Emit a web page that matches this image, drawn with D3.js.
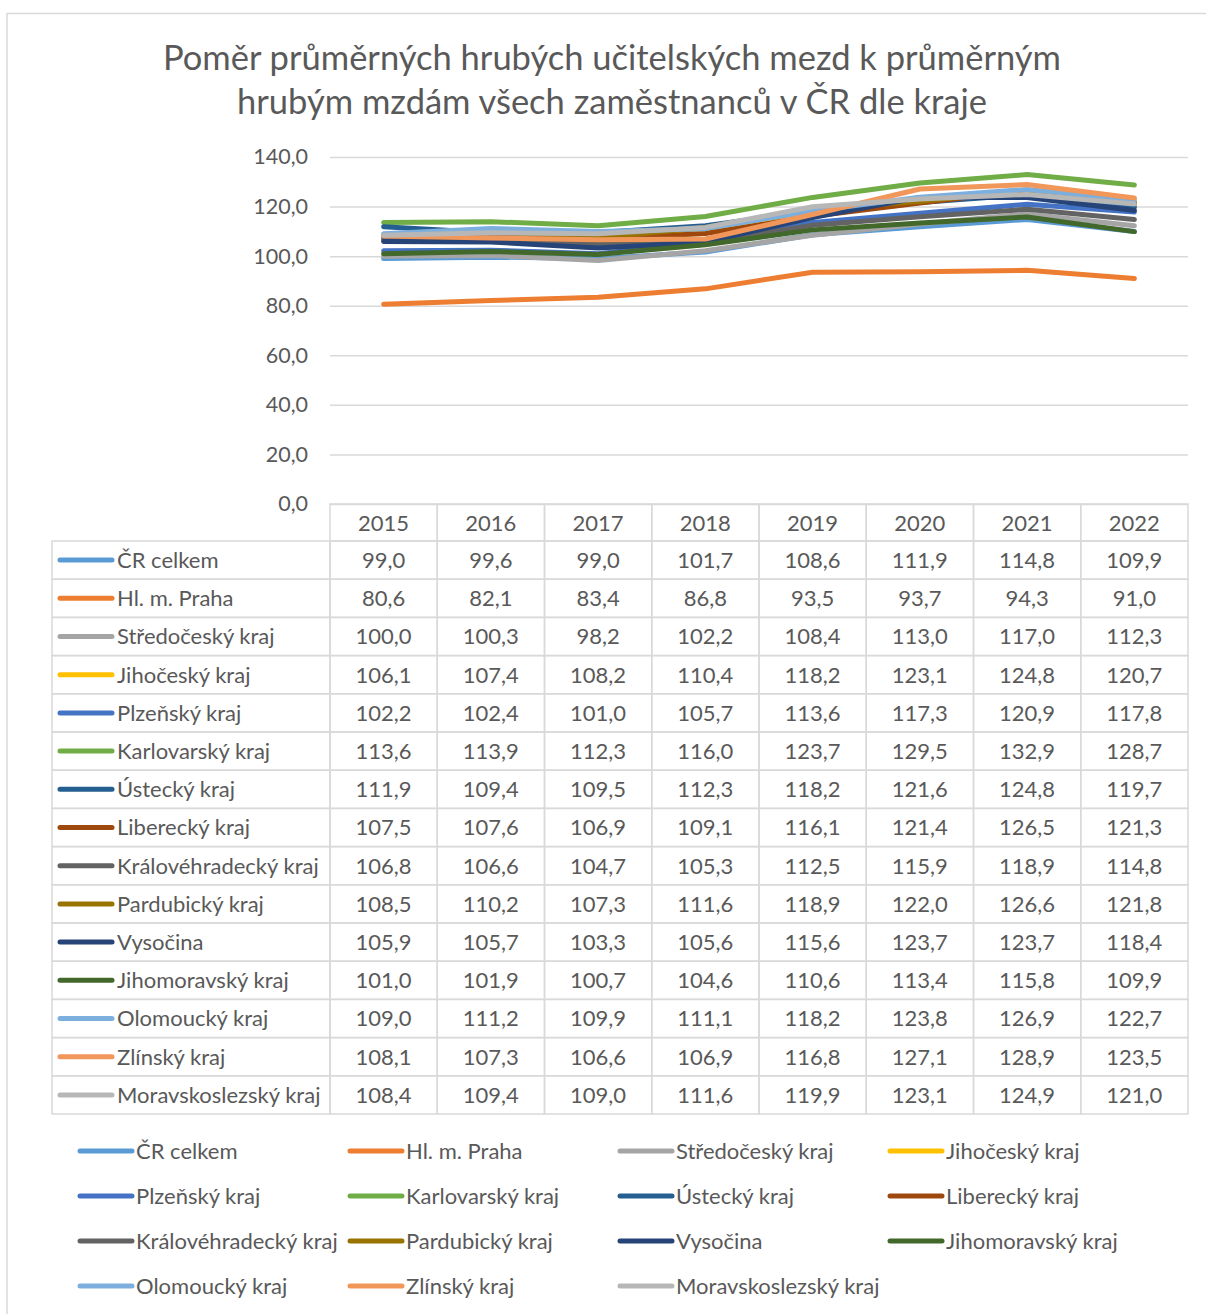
<!DOCTYPE html>
<html>
<head>
<meta charset="utf-8">
<script src="https://cdn.jsdelivr.net/npm/d3@7"></script>
<style>
  body { margin: 0; background: #fff; }
  text { font-family: Lato, "Open Sans", sans-serif; fill: #595959; }
</style>
</head>
<body>
<div id="chart"></div>
<script>
var years = ["2015", "2016", "2017", "2018", "2019", "2020", "2021", "2022"];
var yTicks = [0, 20, 40, 60, 80, 100, 120, 140];

var crCelkem       = [99.0, 99.6, 99.0, 101.7, 108.6, 111.9, 114.8, 109.9];
var praha          = [80.6, 82.1, 83.4, 86.8, 93.5, 93.7, 94.3, 91.0];
var stredocesky    = [100.0, 100.3, 98.2, 102.2, 108.4, 113.0, 117.0, 112.3];
var jihocesky      = [106.1, 107.4, 108.2, 110.4, 118.2, 123.1, 124.8, 120.7];
var plzensky       = [102.2, 102.4, 101.0, 105.7, 113.6, 117.3, 120.9, 117.8];
var karlovarsky    = [113.6, 113.9, 112.3, 116.0, 123.7, 129.5, 132.9, 128.7];
var ustecky        = [111.9, 109.4, 109.5, 112.3, 118.2, 121.6, 124.8, 119.7];
var liberecky      = [107.5, 107.6, 106.9, 109.1, 116.1, 121.4, 126.5, 121.3];
var kralovehradecky= [106.8, 106.6, 104.7, 105.3, 112.5, 115.9, 118.9, 114.8];
var pardubicky     = [108.5, 110.2, 107.3, 111.6, 118.9, 122.0, 126.6, 121.8];
var vysocina       = [105.9, 105.7, 103.3, 105.6, 115.6, 123.7, 123.7, 118.4];
var jihomoravsky   = [101.0, 101.9, 100.7, 104.6, 110.6, 113.4, 115.8, 109.9];
var olomoucky      = [109.0, 111.2, 109.9, 111.1, 118.2, 123.8, 126.9, 122.7];
var zlinsky        = [108.1, 107.3, 106.6, 106.9, 116.8, 127.1, 128.9, 123.5];
var moravskoslezsky= [108.4, 109.4, 109.0, 111.6, 119.9, 123.1, 124.9, 121.0];

var seriesNames = ["ČR celkem", "Hl. m. Praha", "Středočeský kraj", "Jihočeský kraj",
  "Plzeňský kraj", "Karlovarský kraj", "Ústecký kraj", "Liberecký kraj",
  "Královéhradecký kraj", "Pardubický kraj", "Vysočina", "Jihomoravský kraj",
  "Olomoucký kraj", "Zlínský kraj", "Moravskoslezský kraj"];
var seriesValues = [crCelkem, praha, stredocesky, jihocesky, plzensky, karlovarsky,
  ustecky, liberecky, kralovehradecky, pardubicky, vysocina, jihomoravsky,
  olomoucky, zlinsky, moravskoslezsky];
var colors = ["#5B9BD5", "#ED7D31", "#A5A5A5", "#FFC000", "#4472C4", "#70AD47",
  "#255E91", "#9E480E", "#636363", "#997300", "#264478", "#43682B",
  "#7CAFDD", "#F1975A", "#B7B7B7"];

var series = seriesNames.map(function(n, i) {
  return { name: n, values: seriesValues[i], color: colors[i] };
});

var W = 1206, H = 1314;
var plotLeft = 330, plotRight = 1188, plotTop = 157, plotBottom = 504;
var tableLeft = 52, rowH = 38.2, headerH = 37;
var gridColor = "#D9D9D9";
var fs = 22;

var svg = d3.select("#chart").append("svg")
  .attr("width", W).attr("height", H);

// outer chart border
svg.append("rect")
  .attr("x", 7).attr("y", 13.5)
  .attr("width", W + 10).attr("height", H + 10)
  .attr("fill", "none").attr("stroke", gridColor).attr("stroke-width", 1.5);

// title
svg.append("text")
  .attr("x", 612).attr("y", 70)
  .attr("text-anchor", "middle").attr("font-size", 34.5)
  .text("Poměr průměrných hrubých učitelských mezd k průměrným");
svg.append("text")
  .attr("x", 612).attr("y", 114)
  .attr("text-anchor", "middle").attr("font-size", 34.5)
  .text("hrubým mzdám všech zaměstnanců v ČR dle kraje");

//scales
var x = d3.scalePoint().domain(years).range([plotLeft, plotRight]).padding(0.5);
var y = d3.scaleLinear().domain([0, 140]).range([plotBottom, plotTop]);
var colW = x.step();

//y axis with gridlines
var yAxis = svg.append("g")
  .attr("transform", "translate(" + plotLeft + ",0)")
  .call(d3.axisLeft(y)
    .tickValues(yTicks)
    .tickSize(-(plotRight - plotLeft))
    .tickPadding(22)
    .tickFormat(function(d) { return d3.format(".1f")(d).replace(".", ","); }));
yAxis.select(".domain").remove();
yAxis.selectAll(".tick line").attr("stroke", gridColor).attr("stroke-width", 1.5);
yAxis.selectAll(".tick text")
  .attr("font-size", 21.5).attr("fill", "#595959")
  .attr("font-family", "Lato, 'Open Sans', sans-serif");

//lines
var line = d3.line()
  .x(function(d, i) { return x(years[i]); })
  .y(function(d) { return y(d); });

svg.append("g").selectAll("path")
  .data(series)
  .enter().append("path")
  .attr("d", function(d) { return line(d.values); })
  .attr("fill", "none")
  .attr("stroke", function(d) { return d.color; })
  .attr("stroke-width", 5)
  .attr("stroke-linejoin", "round")
  .attr("stroke-linecap", "round");

// data table
var table = svg.append("g");
var tableTop = plotBottom;
var bodyTop = tableTop + headerH;

// header row (years)
table.selectAll("rect.head")
  .data(years).enter().append("rect")
  .attr("class", "head")
  .attr("x", function(d) { return x(d) - colW / 2; })
  .attr("y", tableTop)
  .attr("width", colW).attr("height", headerH)
  .attr("fill", "none").attr("stroke", gridColor).attr("stroke-width", 1.5);
table.selectAll("text.head")
  .data(years).enter().append("text")
  .attr("class", "head")
  .attr("x", function(d) { return x(d); })
  .attr("y", tableTop + headerH / 2 + 8)
  .attr("text-anchor", "middle").attr("font-size", fs)
  .text(function(d) { return d; });

// body rows
var rows = table.selectAll("g.row")
  .data(series).enter().append("g")
  .attr("class", "row")
  .attr("transform", function(d, i) { return "translate(0," + (bodyTop + i * rowH) + ")"; });

rows.append("rect")
  .attr("x", tableLeft).attr("y", 0)
  .attr("width", plotLeft - tableLeft).attr("height", rowH)
  .attr("fill", "none").attr("stroke", gridColor).attr("stroke-width", 1.5);

rows.selectAll("rect.cell")
  .data(years).enter().append("rect")
  .attr("class", "cell")
  .attr("x", function(d) { return x(d) - colW / 2; })
  .attr("y", 0)
  .attr("width", colW).attr("height", rowH)
  .attr("fill", "none").attr("stroke", gridColor).attr("stroke-width", 1.5);

rows.append("line")
  .attr("x1", 60).attr("x2", 112)
  .attr("y1", rowH / 2).attr("y2", rowH / 2)
  .attr("stroke", function(d) { return d.color; })
  .attr("stroke-width", 5).attr("stroke-linecap", "round");

rows.append("text")
  .attr("x", 117).attr("y", rowH / 2 + 8)
  .attr("font-size", fs)
  .text(function(d) { return d.name; });

rows.selectAll("text.val")
  .data(function(d) { return d.values; })
  .enter().append("text")
  .attr("class", "val")
  .attr("x", function(d, i) { return x(years[i]); })
  .attr("y", rowH / 2 + 8)
  .attr("text-anchor", "middle").attr("font-size", fs)
  .text(function(d) { return d3.format(".1f")(d).replace(".", ","); });

// legend, 4 columns
var legendX = [80, 350, 620, 890], legendY0 = 1151, legendDy = 45;
var legend = svg.append("g").selectAll("g")
  .data(series).enter().append("g")
  .attr("transform", function(d, i) {
    return "translate(" + legendX[i % 4] + "," + (legendY0 + Math.floor(i / 4) * legendDy) + ")";
  });
legend.append("line")
  .attr("x1", 0).attr("x2", 52)
  .attr("stroke", function(d) { return d.color; })
  .attr("stroke-width", 5).attr("stroke-linecap", "round");
legend.append("text")
  .attr("x", 56).attr("y", 8)
  .attr("font-size", fs)
  .text(function(d) { return d.name; });
</script>
</body>
</html>
